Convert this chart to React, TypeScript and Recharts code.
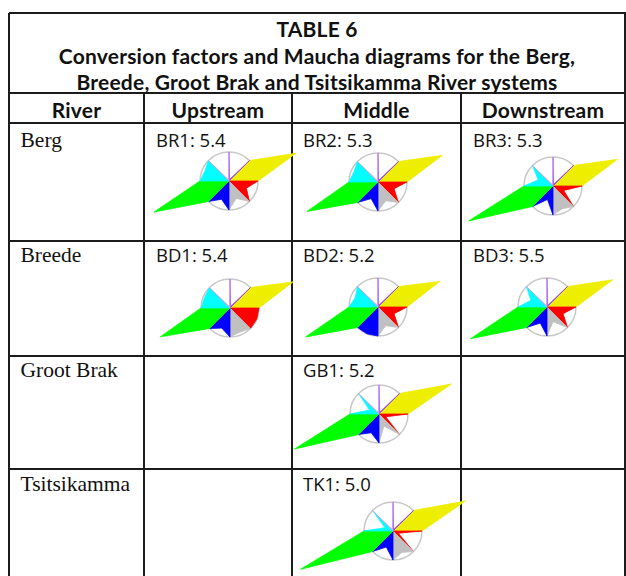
import React from "react";
import { RadarChart, Radar, PolarGrid, PolarAngleAxis, PolarRadiusAxis } from "recharts";

// sector order, clockwise from 12 o'clock: K, Na, Ca, Mg, SO4, Cl, HCO3, CO3
const SECTOR_COLORS = ["#9b3cf0", "#eeee00", "#ff0000", "#c0c0c0", "#0000ff", "#00ff00", "#00ffff", "#caa2f6"];

const TITLE_LINES = [
    "TABLE 6",
    "Conversion factors and Maucha diagrams for the Berg,",
    "Breede, Groot Brak and Tsitsikamma River systems",
];
const HEADERS = ["River", "Upstream", "Middle", "Downstream"];
const RIVERS = ["Berg", "Breede", "Groot Brak", "Tsitsikamma"];

const SITE_IDS = ["BR1", "BR2", "BR3", "BD1", "BD2", "BD3", "GB1", "TK1"];
const FACTORS = [5.4, 5.3, 5.3, 5.4, 5.2, 5.5, 5.2, 5.0];
const SITE_ROW = [0, 0, 0, 1, 1, 1, 2, 3];
const SITE_COL = [1, 2, 3, 1, 2, 3, 2, 2];

// kite tip length for each sector, in units of the circle radius
const BR1 = [0.06, 2.5, 0.65, 0.65, 0.68, 2.8, 0.9, 0.05];
const BR2 = [0.06, 2.4, 0.6, 0.7, 0.62, 2.65, 0.9, 0.05];
const BR3 = [0.06, 2.4, 0.4, 0.85, 0.5, 3.15, 0.55, 0.05];
const BD1 = [0.06, 2.35, 1.0, 0.9, 0.75, 2.6, 0.95, 0.05];
const BD2 = [0.06, 2.3, 0.6, 0.7, 1.0, 2.7, 0.85, 0.05];
const BD3 = [0.06, 2.45, 0.6, 0.55, 0.6, 2.85, 0.6, 0.05];
const GB1 = [0.06, 2.7, 0.25, 0.45, 0.7, 3.15, 0.35, 0.05];
const TK1 = [0.06, 2.7, 0.2, 0.8, 0.6, 3.45, 0.3, 0.05];
const KITES = [BR1, BR2, BR3, BD1, BD2, BD3, GB1, TK1];

// layout
const COL_X = [9, 144, 292, 461, 625];
const ROW_Y = [123, 241, 356, 469, 600];
const ROW_BASE = [146.7, 262.3, 377.3, 491.5];
const LABEL_X = [0, 156, 303, 473];
const CENTERS = [
    [229, 181], [378, 182], [553, 186],
    [230, 308], [378, 307], [547, 307],
    [379, 414], [393, 531],
];

const R_PX = 29;
const MAX_H = 4;
const SIZE = 240;
const DRAW_ORDER = [1, 2, 3, 4, 5, 6, 0, 7];

function buildData(kites: number[]) {
    return Array.from({ length: 16 }, (_, i) => {
        const row: Record<string, number> = { pos: i };
        kites.forEach((h, k) => {
            const start = 2 * k;
            const end = (2 * k + 2) % 16;
            row[`s${k}`] = i === 2 * k + 1 ? h : i === start || i === end ? 1 : 0;
        });
        return row;
    });
}

function Maucha({ kites }: { kites: number[] }) {
    const outer = MAX_H * R_PX;
    return (
        <RadarChart
            width={SIZE}
            height={SIZE}
            data={buildData(kites)}
            cx={SIZE / 2}
            cy={SIZE / 2}
            outerRadius={outer}
            margin={{ top: 0, right: 0, bottom: 0, left: 0 }}
        >
            <PolarGrid gridType="circle" polarRadius={[(1 / MAX_H) * outer]} radialLines={false} stroke="#c8c8c8" strokeWidth={1.5} />
            <PolarAngleAxis dataKey="pos" tick={false} axisLine={false} tickLine={false} />
            <PolarRadiusAxis domain={[0, MAX_H]} tick={false} axisLine={false} tickLine={false} />
            {DRAW_ORDER.map((k) => (
                <Radar
                    key={k}
                    dataKey={`s${k}`}
                    fill={SECTOR_COLORS[k]}
                    fillOpacity={1}
                    stroke={SECTOR_COLORS[k]}
                    strokeWidth={0.8}
                    dot={false}
                    isAnimationActive={false}
                />
            ))}
        </RadarChart>
    );
}

const LINE = "#1c1c1c";

export default function App() {
    const hLine = (y: number, key: string) => (
        <div key={key} style={{ position: "absolute", left: COL_X[0], top: y - 1, width: COL_X[4] - COL_X[0] + 1, height: 2, background: LINE }} />
    );
    const vLine = (x: number, y0: number, y1: number, key: string) => (
        <div key={key} style={{ position: "absolute", left: x - 1, top: y0, width: 2, height: y1 - y0, background: LINE }} />
    );

    return (
        <div style={{ position: "absolute", left: 0, top: 0, width: 626, height: 576, overflow: "hidden", background: "#fff" }}>
            {/* frame */}
            {hLine(13, "t")}
            {hLine(92.5, "tb")}
            {hLine(123, "hb")}
            {ROW_Y.slice(1, 4).map((y, i) => hLine(y, `r${i}`))}
            {vLine(COL_X[0], 13, 600, "l")}
            {vLine(COL_X[4], 13, 600, "r")}
            {COL_X.slice(1, 4).map((x, i) => vLine(x, 92.5, 600, `c${i}`))}

            {/* title */}
            {TITLE_LINES.map((t, i) => (
                <div
                    key={t}
                    style={{
                        position: "absolute",
                        left: COL_X[0],
                        width: COL_X[4] - COL_X[0],
                        top: [37.5, 63.8, 90][i] - 21.1,
                        textAlign: "center",
                        fontFamily: "Lato",
                        fontWeight: 700,
                        fontSize: 21,
                        letterSpacing: 0.2,
                        lineHeight: "26px",
                        color: "#111",
                        whiteSpace: "nowrap",
                    }}
                >
                    {t}
                </div>
            ))}

            {/* header */}
            {HEADERS.map((h, i) => (
                <div
                    key={h}
                    style={{
                        position: "absolute",
                        left: COL_X[i],
                        width: COL_X[i + 1] - COL_X[i],
                        top: 118 - 21.1,
                        textAlign: "center",
                        fontFamily: "Lato",
                        fontWeight: 700,
                        fontSize: 21,
                        letterSpacing: 0.2,
                        lineHeight: "26px",
                        color: "#111",
                    }}
                >
                    {h}
                </div>
            ))}

            {/* river names */}
            {RIVERS.map((r, i) => (
                <div
                    key={r}
                    style={{
                        position: "absolute",
                        left: 20.5,
                        top: ROW_BASE[i] - 19.1,
                        fontFamily: "'Liberation Serif'",
                        fontSize: 21.5,
                        lineHeight: "24px",
                        color: "#111",
                        whiteSpace: "nowrap",
                    }}
                >
                    {r}
                </div>
            ))}

            {/* diagrams */}
            {SITE_IDS.map((id, i) => (
                <div
                    key={`d${id}`}
                    style={{ position: "absolute", left: CENTERS[i][0] - SIZE / 2, top: CENTERS[i][1] - SIZE / 2, width: SIZE, height: SIZE }}
                >
                    <Maucha kites={KITES[i]} />
                </div>
            ))}

            {/* site labels */}
            {SITE_IDS.map((id, i) => (
                <div
                    key={id}
                    style={{
                        position: "absolute",
                        left: LABEL_X[SITE_COL[i]],
                        top: ROW_BASE[SITE_ROW[i]] - 17.2,
                        fontFamily: "'Open Sans'",
                        fontSize: 18.5,
                        lineHeight: "20px",
                        color: "#111",
                        whiteSpace: "nowrap",
                    }}
                >
                    {`${id}: ${FACTORS[i].toFixed(1)}`}
                </div>
            ))}
        </div>
    );
}
